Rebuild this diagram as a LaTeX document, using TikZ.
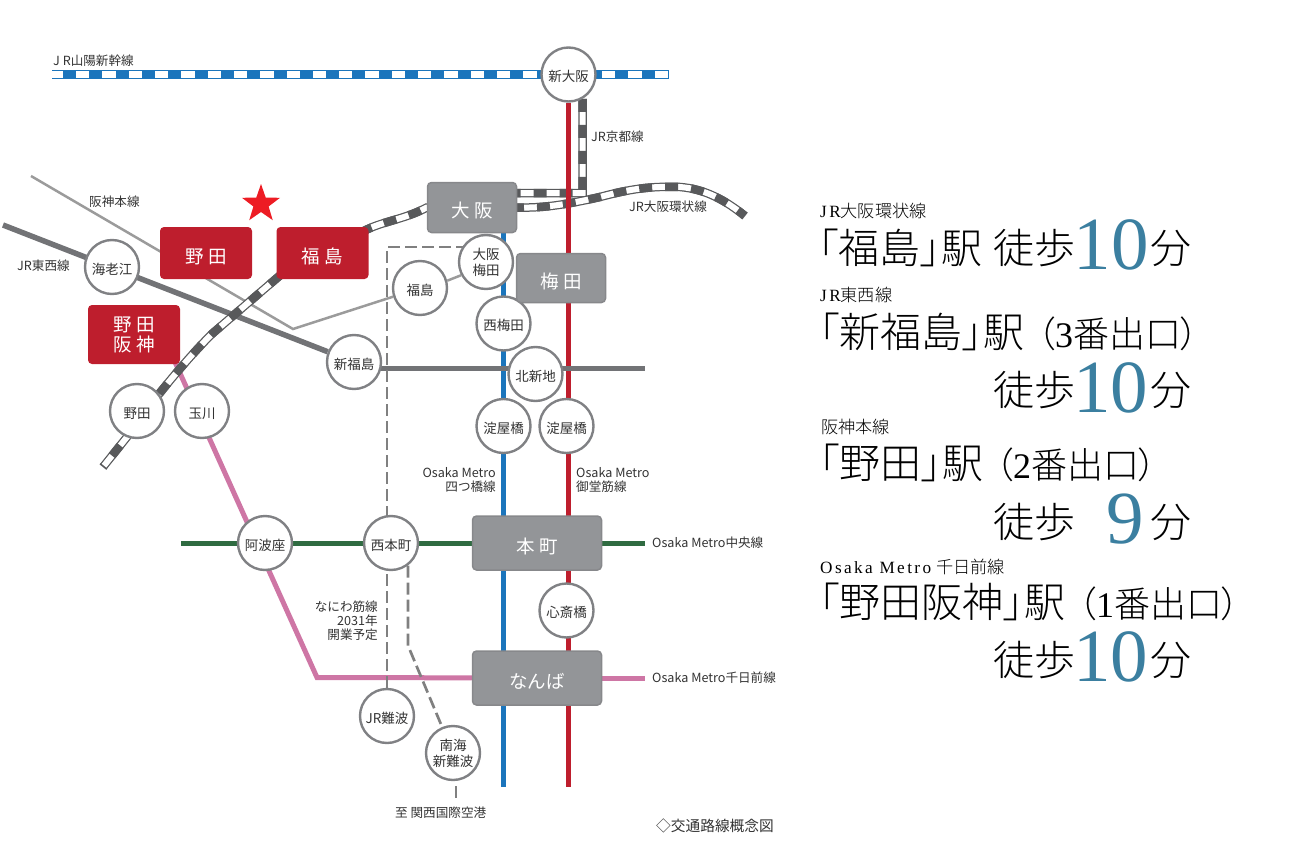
\documentclass[tikz,border=0pt]{standalone}
\usepackage{fontspec}
\setmainfont{Noto Sans CJK JP}
\newfontfamily\wordfont[RawFeature=+palt]{Noto Sans CJK JP Light}
\newfontfamily\numfont{Liberation Serif}
\newfontfamily\latfont[LetterSpace=14]{Liberation Serif}
\usetikzlibrary{shapes.geometric,backgrounds}
\definecolor{ringgray}{HTML}{808184}
\definecolor{boxgray}{HTML}{939598}
\definecolor{boxedge}{HTML}{87888B}
\definecolor{railgray}{HTML}{58595B}
\definecolor{linegray}{HTML}{727376}
\definecolor{dashgray}{HTML}{808080}
\definecolor{thingray}{HTML}{9B9B9B}
\definecolor{midored}{HTML}{BE1E2D}
\definecolor{yotsublue}{HTML}{1B75BC}
\definecolor{sennpink}{HTML}{CE76A5}
\definecolor{chuogreen}{HTML}{2F6B41}
\definecolor{walkblue}{HTML}{3B7FA0}
\definecolor{inkgray}{HTML}{333333}
\definecolor{starred}{HTML}{ED1C24}
\tikzset{
	stn/.style={draw=ringgray,circle,fill=white,line width=2.4pt,minimum size=54pt,inner sep=0pt,align=center,text=inkgray,font=\fontsize{13.5}{16}\selectfont,execute at begin node={\rule{0pt}{15.5pt}}},
	bigbox/.style={draw=boxedge,fill=boxgray,rounded corners=4pt,line width=1.5pt,inner sep=0pt,align=center,text=white,font=\fontsize{18.5}{20}\selectfont,execute at begin node={\rule{0pt}{22pt}}},
	redbox/.style={fill=midored,rounded corners=4pt,inner sep=0pt,align=center,text=white,font=\fontsize{18.5}{20}\selectfont,execute at begin node={\rule{0pt}{22pt}}},
	lab/.style={inner sep=0pt,align=left,text=inkgray,font=\fontsize{12.6}{14}\selectfont},
	rail/.style={draw=railgray,line width=8.5pt,postaction={draw=white,line width=6pt},postaction={draw=railgray,line width=8.5pt,dash pattern=on 13pt off 13pt,dash phase=#1}},
	rail/.default=0pt,
	sanyo/.style={draw=yotsublue,line width=9pt,postaction={draw=white,line width=6.5pt},postaction={draw=yotsublue,line width=9pt,dash pattern=on 13pt off 13.3pt,dash phase=15.2pt}},
	metro/.style={line width=5pt},
	naniwa/.style={draw=dashgray,line width=2.7pt,dash pattern=on 12pt off 5pt},
	kana/.style={inner sep=0pt,anchor=base west,font=\fontsize{41}{41}\selectfont\wordfont},
	exitno/.style={inner sep=0pt,anchor=base west,font=\fontsize{36}{36}\selectfont\wordfont},
	small/.style={inner sep=0pt,anchor=base west,font=\fontsize{17.2}{17.2}\selectfont\wordfont},
	minute/.style={inner sep=0pt,anchor=base west,text=walkblue,font=\fontsize{75}{75}\selectfont\numfont}
}
\begin{document}
\begin{tikzpicture}[x=1pt,y=-1pt]
	\useasboundingbox (0,0) rectangle (1299,851);

	\node[stn] (c1) at (568.5,74.5) {新大阪};
	\node[stn] (c2) at (112,267) {海老江};
	\node[stn] (c3) at (137,411) {野田};
	\node[stn] (c4) at (202,411) {玉川};
	\node[stn] (c5) at (354,362) {新福島};
	\node[stn] (c6) at (420,288) {福島};
	\node[stn] (c7) at (486,262) {大阪\\梅田};
	\node[stn] (c8) at (503.5,323.5) {西梅田};
	\node[stn] (c9) at (535.5,374) {北新地};
	\node[stn] (c10) at (503.5,426) {淀屋橋};
	\node[stn] (c11) at (566.5,426) {淀屋橋};
	\node[stn] (c12) at (265,543) {阿波座};
	\node[stn] (c13) at (391,543) {西本町};
	\node[stn] (c14) at (566.5,610.5) {心斎橋};
	\node[stn] (c15) at (387,716) {JR難波};
	\node[stn] (c16) at (453,753) {南海\\新難波};

	\node[bigbox,minimum width=89pt,minimum height=50pt] (b1) at (472,207.5) {大\hspace{5pt}阪};
	\node[bigbox,minimum width=89pt,minimum height=49pt] (b2) at (561,278) {梅\hspace{5pt}田};
	\node[bigbox,minimum width=129pt,minimum height=54pt] (b3) at (537,543) {本\hspace{5pt}町};
	\node[bigbox,minimum width=129pt,minimum height=54pt] (b4) at (537,678) {なんば};
	\node[redbox,minimum width=92pt,minimum height=52pt] (r1) at (206,253) {野\hspace{5pt}田};
	\node[redbox,minimum width=92pt,minimum height=52pt] (r2) at (322.5,253) {福\hspace{5pt}島};
	\node[redbox,minimum width=92pt,minimum height=59pt] (r3) at (134,334.5) {野\hspace{5pt}田\\阪\hspace{5pt}神};
	\node[star,star points=5,star point ratio=2.5,fill=starred,minimum size=40pt,inner sep=0pt] (s1) at (261,204) {};

	\coordinate (p1) at (52,74.5);
	\coordinate (p2) at (669,74.5);
	\coordinate (p3) at (582.5,193);
	\coordinate (p4) at (31,176);
	\coordinate (p5) at (293,329);
	\coordinate (p6) at (3,225);
	\coordinate (p7) at (645,368);
	\coordinate (p8) at (181,543);
	\coordinate (p9) at (645,543);
	\coordinate (p10) at (645,678);
	\coordinate (p11) at (175,362);
	\coordinate (p12) at (317,677.5);
	\coordinate (p13) at (503.5,215);
	\coordinate (p14) at (503.5,787);
	\coordinate (p15) at (568.5,787);
	\coordinate (p16) at (103,467);
	\coordinate (p17) at (745,216);
	\coordinate (p18) at (387,247);
	\coordinate (p19) at (456,786);
	\coordinate (p20) at (456,798);

	\begin{pgfonlayer}{background}
		\draw[draw=thingray,line width=2.5pt] (p4) -- (p5) -- (c6);
		\draw[draw=thingray,line width=2.5pt] (c6.15) -- (c7.208);
		\draw[metro,draw=chuogreen] (p8) -- (p9);
		\draw[metro,draw=sennpink] (p11) -- (p12) -- (b4);
		\draw[metro,draw=sennpink] (b4) -- (p10);
		\draw[metro,draw=linegray,line width=5.5pt] (p6) -- (c5);
		\draw[sanyo] (p1) -- (p2);
		\draw[rail] (c1.-60) -- (p3) -- (p3 -| b1);
		\draw[rail=11.5pt] (p16) -- (127,437) .. controls (150,403) and (190,355) .. (213,333) -- (277,278) .. controls (300,258) and (345,240) .. (368,229) .. controls (385,221) and (405,219) .. (b1.west) -- (b1.east) .. controls (540,208) and (560,206) .. (600,197) .. controls (630,189) and (650,186) .. (680,187) .. controls (705,189) and (725,200) .. (p17);
		\draw[metro,draw=yotsublue] (p13) -- (p14);
		\draw[metro,draw=midored] (c1) -- (p15);
		\draw[metro,draw=linegray] (c5 |- p7) -- (p7);
		\draw[naniwa] (c15) -- (p18) -- (p18 -| c7);
		\draw[naniwa] (c13.-53) -- ++(0,80) -- (c16);
		\draw[draw=dashgray,line width=2.7pt] (p19) -- (p20);
	\end{pgfonlayer}

	\node[lab,anchor=west] (l1) at (53,61) {J R山陽新幹線};
	\node[lab,anchor=west] (l2) at (591,137) {JR京都線};
	\node[lab,anchor=west] (l3) at (89,202) {阪神本線};
	\node[lab,anchor=west] (l4) at (17,266) {JR東西線};
	\node[lab,anchor=west] (l5) at (629,207) {JR大阪環状線};
	\node[lab,anchor=east,align=right] (l6) at (496,480) {Osaka Metro\\四つ橋線};
	\node[lab,anchor=west] (l7) at (576,480) {Osaka Metro\\御堂筋線};
	\node[lab,anchor=west] (l8) at (652,543) {Osaka Metro中央線};
	\node[lab,anchor=west] (l9) at (652,678) {Osaka Metro千日前線};
	\node[lab,anchor=east,align=right] (l10) at (378,621) {なにわ筋線\\2031年\\開業予定};
	\node[lab,anchor=west] (l11) at (395,813) {至 関西国際空港};
	\node[lab,anchor=west,font=\fontsize{14.7}{16}\selectfont] (l12) at (656,826) {◇交通路線概念図};

	\node[small] (t1) at (820,217) {{\latfont JR}大阪環状線};
	\node[kana] (t2) at (818,263) {「福島」駅};
	\node[kana] (t3) at (993,263) {徒歩};
	\node[minute] (t4) at (1073.5,269) {10};
	\node[kana] (t5) at (1150,263) {分};

	\node[small] (u1) at (820,301) {{\latfont JR}東西線};
	\node[kana] (u2) at (819,347) {「新福島」駅};
	\node[exitno] (u3) at (1037,347) {（{\numfont 3}番出口）};
	\node[kana] (u4) at (993,405) {徒歩};
	\node[minute] (u5) at (1073,412) {10};
	\node[kana] (u6) at (1150,405) {分};

	\node[small] (v1) at (821,433) {阪神本線};
	\node[kana] (v2) at (819,478) {「野田」駅};
	\node[exitno] (v3) at (995,478) {（{\numfont 2}番出口）};
	\node[kana] (v4) at (993,537) {徒歩};
	\node[minute] (v5) at (1106,543) {9};
	\node[kana] (v6) at (1150,537) {分};

	\node[small] (w1) at (820,573) {{\latfont Osaka Metro}\hspace{5pt}千日前線};
	\node[kana] (w2) at (819,617) {「野田阪神」駅};
	\node[exitno] (w3) at (1078,617) {（{\numfont 1}番出口）};
	\node[kana] (w4) at (993,675) {徒歩};
	\node[minute] (w5) at (1073,681) {10};
	\node[kana] (w6) at (1150,675) {分};
\end{tikzpicture}
\end{document}
